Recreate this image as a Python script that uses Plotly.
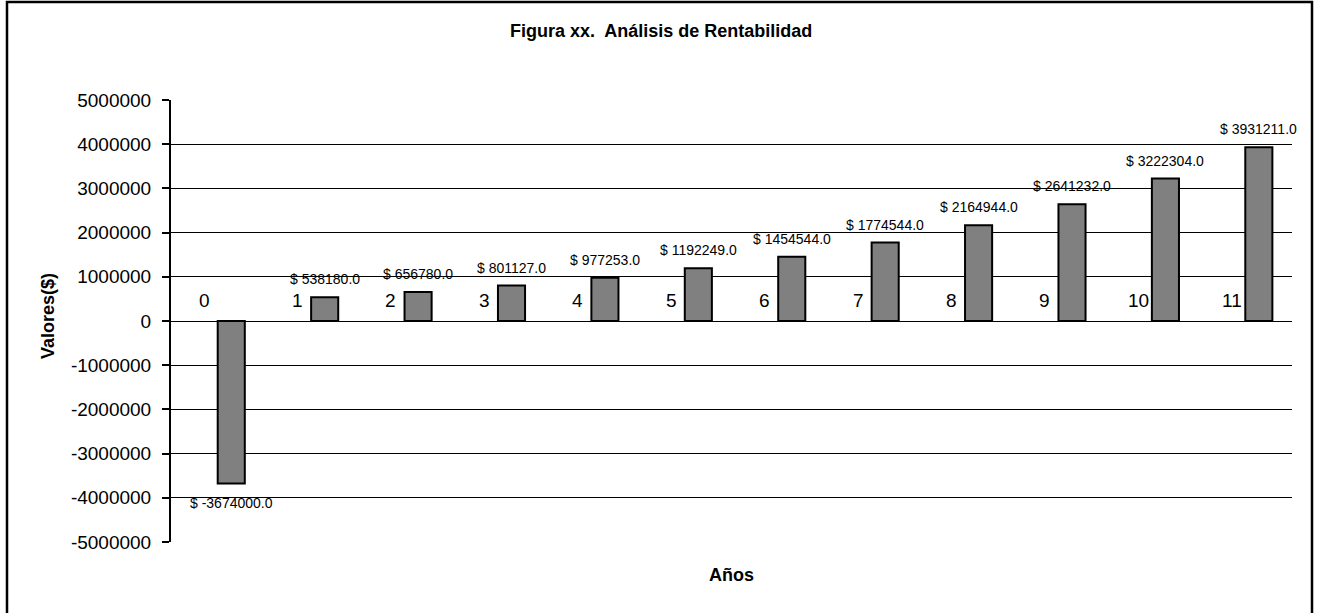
import plotly.graph_objects as go

# Data
years = [0, 1, 2, 3, 4, 5, 6, 7, 8, 9, 10, 11]
values = [-3674000, 538180, 656780, 801127, 977253, 1192249,
          1454544, 1774544, 2164944, 2641232, 3222304, 3931211]
y_ticks = [5000000, 4000000, 3000000, 2000000, 1000000, 0,
           -1000000, -2000000, -3000000, -4000000, -5000000]

title_text = "Figura xx.  Análisis de Rentabilidad"
x_title = "Años"
y_title = "Valores($)"

FONT = "Arial, 'Liberation Sans', sans-serif"

# Canvas and plot-area geometry (pixels)
W, H = 1317, 613
PL, PR, PT, PB = 171, 1292, 100, 542
BARGAP = 0.42

# horizontal offset of each bar of a two-bar group from the category centre
cat_px = (PR - PL) / len(years)
half_group = cat_px * (1 - BARGAP) / 4


def px_to_paper_x(px):
    return (px - PL) / (PR - PL)


def px_to_paper_y(py):
    return (PB - py) / (PB - PT)


cats = [str(y) for y in years]

fig = go.Figure()

# Year series: bars too small to see; only their labels show
fig.add_trace(go.Bar(
    x=cats, y=years,
    marker=dict(color="#808080", line=dict(width=0)),
    showlegend=False, hoverinfo="skip",
))

# Value series
fig.add_trace(go.Bar(
    x=cats, y=values,
    marker=dict(color="#808080", line=dict(color="black", width=2)),
    showlegend=False,
))

annotations = []
# year labels, left bar of each group
for c, yv in zip(cats, years):
    annotations.append(dict(
        x=c, y=yv, xref="x", yref="y", text=str(yv), showarrow=False,
        xanchor="center", yanchor="bottom",
        xshift=-half_group, yshift=8,
        font=dict(family=FONT, size=19, color="black"),
    ))
# value labels, right bar of each group
for c, v in zip(cats, values):
    pos = v >= 0
    annotations.append(dict(
        x=c, y=v, xref="x", yref="y", text=f"$ {v:.1f}", showarrow=False,
        xanchor="center", yanchor="bottom" if pos else "top",
        xshift=half_group, yshift=8 if pos else -10,
        font=dict(family=FONT, size=14, color="black"),
    ))
# axis titles
annotations += [
    dict(text=f"<b>{y_title}</b>", textangle=-90,
         x=px_to_paper_x(48), y=px_to_paper_y(316),
         xref="paper", yref="paper", showarrow=False,
         xanchor="center", yanchor="middle",
         font=dict(family=FONT, size=18, color="black")),
    dict(text=f"<b>{x_title}</b>",
         x=px_to_paper_x(731), y=px_to_paper_y(575),
         xref="paper", yref="paper", showarrow=False,
         xanchor="center", yanchor="middle",
         font=dict(family=FONT, size=18, color="black")),
]

fig.update_layout(
    width=W, height=H,
    margin=dict(l=PL, r=W - PR, t=PT, b=H - PB, pad=0),
    paper_bgcolor="white",
    plot_bgcolor="white",
    barmode="group",
    bargap=BARGAP,
    bargroupgap=0,
    font=dict(family=FONT, color="black"),
    title=dict(
        text=f"<b>{title_text}</b>",
        font=dict(family=FONT, size=18, color="black"),
        x=0.502, xref="container", xanchor="center",
        y=1 - 31 / H, yref="container", yanchor="middle",
    ),
    xaxis=dict(
        type="category",
        range=[-0.5, len(years) - 0.5],
        showticklabels=False,
        ticks="",
        showline=False,
        showgrid=False,
        zeroline=False,
    ),
    yaxis=dict(
        range=[-5000000, 5000000],
        tickvals=y_ticks,
        ticktext=[str(v) for v in y_ticks],
        tickfont=dict(family=FONT, size=19, color="black"),
        ticks="outside",
        ticklen=7,
        tickwidth=1.5,
        tickcolor="black",
        ticklabelstandoff=7,
        showline=True,
        linecolor="black",
        linewidth=2,
        showgrid=True,
        gridcolor="black",
        gridwidth=1,
        zeroline=True,
        zerolinecolor="black",
        zerolinewidth=1,
    ),
    annotations=annotations,
    shapes=[
        # chart frame
        dict(type="rect", xref="paper", yref="paper",
             x0=px_to_paper_x(7), x1=px_to_paper_x(1312),
             y0=px_to_paper_y(625), y1=px_to_paper_y(2),
             line=dict(color="black", width=2.5),
             fillcolor="rgba(0,0,0,0)", layer="above"),
    ],
)

fig.write_html("out.html")
